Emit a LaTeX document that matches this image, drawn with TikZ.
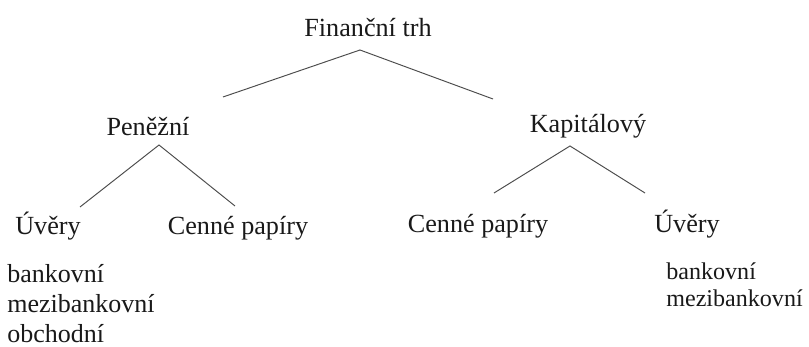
\documentclass[tikz,border=0pt]{standalone}
\usepackage{fontspec}
\setmainfont{Liberation Serif}
\usepackage{tikz}
\usetikzlibrary{calc}
\tikzstyle{term} = [inner sep=0pt, anchor=base, text=black!90, font=\fontsize{14.9}{17}\selectfont]
\tikzstyle{kinds} = [inner sep=0pt, anchor=north west, align=left, text=black!90]
\tikzstyle{branch} = [line width=0.55pt, draw=black!70]

\begin{document}
\begin{tikzpicture}[x=0.02cm, y=-0.02cm]
\useasboundingbox (0,0) rectangle (809,347);
\node (trh) [term] at (368,37) {Finanční trh};
\node (penez) [term] at (148,136) {Peněžní};
\node (kapit) [term] at (588,133) {Kapitálový};
\node (uverL) [term] at (48,235) {Úvěry};
\node (cennL) [term] at (238,235) {Cenné papíry};
\node (cennR) [term] at (478,233) {Cenné papíry};
\node (uverR) [term] at (687,233) {Úvěry};
\node (typL) [kinds, font=\fontsize{14.8}{17.07}\selectfont] at (7,264) {bankovní\\mezibankovní\\obchodní};
\node (typR) [kinds, font=\fontsize{13.7}{15.36}\selectfont] at (666,262) {bankovní\\mezibankovní};

\draw [branch] ($(penez.base)+(75,-39)$) -- ($(trh.base)+(-8,13)$) -- ($(kapit.base)+(-95,-34)$);
\draw [branch] ($(uverL.base)+(32,-28)$) -- ($(penez.base)+(11,9)$) -- ($(cennL.base)+(-3,-29)$);
\draw [branch] ($(cennR.base)+(16,-40)$) -- ($(kapit.base)+(-18,13)$) -- ($(uverR.base)+(-42,-40)$);
\end{tikzpicture}
\end{document}
